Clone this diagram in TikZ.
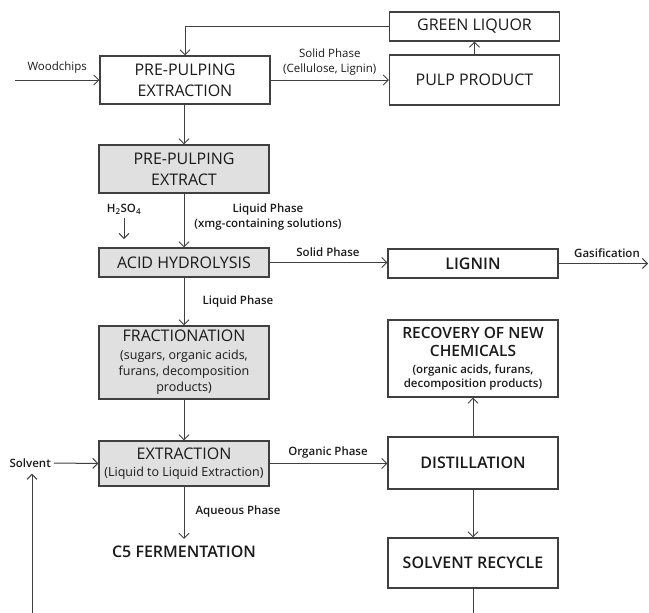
\documentclass[tikz,border=0pt]{standalone}
\usepackage{fontspec}
\setmainfont{Open Sans}[BoldFont={Open Sans Semibold}]
\usetikzlibrary{arrows.meta, positioning, calc}

\definecolor{ln}{HTML}{404040}
\definecolor{gf}{HTML}{E0E0E0}
\definecolor{tx}{HTML}{1A1A1A}

\tikzset{
    procbox/.style={shape=rectangle, draw=ln, line width=1.1pt, fill=white, text=tx,
        minimum width=170pt, align=center, inner sep=0pt, font=\fontsize{16}{21}\selectfont},
    greybox/.style={procbox, fill=gf},
    lbl/.style={align=center, text=tx, inner sep=0pt, font=\fontsize{11.5}{15}\selectfont},
    blbl/.style={lbl, font=\fontsize{11.5}{15}\selectfont\bfseries},
    flow/.style={draw=ln, line width=1pt, -{Straight Barb[length=5pt, width=10pt]}},
    plain/.style={draw=ln, line width=1pt},
}

\begin{document}
\begin{tikzpicture}[x=1pt, y=-1pt]
    \useasboundingbox (0,0) rectangle (649,613);

    % left column
    \node[procbox, minimum height=48pt] (pre) at (185,80) {PRE-PULPING\\EXTRACTION};
    \node[greybox, minimum height=48pt] (ext) at (184,169) {PRE-PULPING\\EXTRACT};
    \node[greybox, minimum height=29pt] (acid) at (184,262.5) {ACID HYDROLYSIS};
    \node[greybox, minimum height=73pt] (frac) at (184,362.5)
        {FRACTIONATION\\[-3pt]{\fontsize{12.5}{16}\selectfont (sugars, organic acids,}\\[-5pt]
         {\fontsize{12.5}{16}\selectfont furans, decomposition}\\[-5pt]{\fontsize{12.5}{16}\selectfont products)}};
    \node[greybox, minimum height=45pt] (extr) at (184,463.5)
        {EXTRACTION\\[-4pt]{\fontsize{12.5}{16}\selectfont (Liquid to Liquid Extraction)}};
    \node[text=tx, inner sep=0pt, font=\fontsize{16}{21}\selectfont\bfseries] (ferm) at (184,552) {C5 FERMENTATION};

    % right column
    \node[procbox, minimum height=29pt] (green) at (474.5,26.5) {GREEN LIQUOR};
    \node[procbox, minimum height=50pt] (pulp) at (474.5,80) {PULP PRODUCT};
    \node[procbox, minimum height=29pt, font=\fontsize{16}{21}\selectfont\bfseries] (lig) at (473,263.5) {LIGNIN};
    \node[procbox, minimum height=77pt, font=\fontsize{15.5}{18}\selectfont\bfseries] (recov) at (473,358.5)
        {RECOVERY OF NEW\\CHEMICALS\\[-1pt]{\fontsize{11.5}{14}\selectfont (organic acids, furans,}\\[-4pt]
         {\fontsize{11.5}{14}\selectfont decomposition products)}};
    \node[procbox, minimum height=52pt, font=\fontsize{16}{21}\selectfont\bfseries] (dist) at (473,463) {DISTILLATION};
    \node[procbox, minimum height=50pt, font=\fontsize{16}{21}\selectfont\bfseries] (recyc) at (473,563) {SOLVENT RECYCLE};

    % free ends
    \coordinate (wood) at (15,80);
    \coordinate (gas) at (648,263.5);
    \coordinate (acidin) at (124,239);
    \coordinate (solvbot) at (32,613);
    \coordinate (recycbot) at (473,613);

    \node[blbl] (h2so4) at (124,209) {H\textsubscript{2}SO\textsubscript{4}};
    \node[blbl, anchor=east] (solv) at (51,463) {Solvent};

    % connectors
    \draw[flow] (wood) -- node[lbl, above=6pt] {Woodchips} (pre.west);
    \draw[flow] (pre.east) -- node[lbl, above=4pt] {Solid Phase\\(Cellulose, Lignin)} (pulp.west);
    \draw[flow] (pulp.north) -- (green.south);
    \draw[flow] (green.west) -| (pre.north);
    \draw[flow] (pre.south -| ext.north) -- (ext.north);
    \draw[flow] (ext.south) -- (acid.north);
    \node[blbl] at (268,217) {Liquid Phase\\(xmg-containing solutions)};
    \draw[flow] ($(h2so4.south)+(0,4)$) -- (acidin);
    \draw[flow] (acid.east) -- (acid.east -| lig.west);
    \node[blbl] at (328,252) {Solid Phase};
    \draw[flow] (lig.east) -- (gas);
    \node[blbl] at (607,253) {Gasification};
    \draw[flow] (acid.south) -- (frac.north);
    \node[blbl] at (238,302) {Liquid Phase};
    \draw[flow] (frac.south) -- (extr.north);
    \draw[flow] (solv.east) ++(3,0) -- (extr.west);
    \draw[flow] (solvbot) -- ($(solvbot |- solv.south)+(0,6)$);
    \draw[flow] (extr.east) -- (extr.east -| dist.west);
    \node[blbl] at (328,453) {Organic Phase};
    \draw[flow] (extr.south) -- ($(ferm.north)+(0,-7)$);
    \node[blbl] at (238,512) {Aqueous Phase};
    \draw[flow] (dist.north) -- (recov.south);
    \draw[flow] (dist.south) -- (recyc.north);
    \draw[plain] (recyc.south) -- (recycbot);
\end{tikzpicture}
\end{document}
